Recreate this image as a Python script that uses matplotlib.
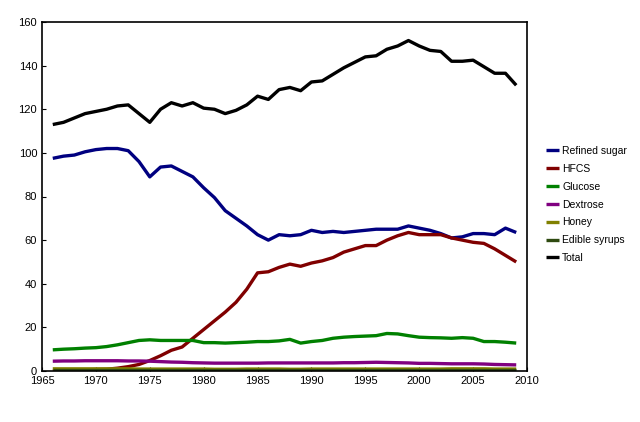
import matplotlib
matplotlib.use('Agg')
import matplotlib.pyplot as plt

plt.rcParams['font.family'] = ['Liberation Sans Narrow', 'Liberation Sans', 'DejaVu Sans']

years = list(range(1966, 2010))

refined_sugar = [97.5, 98.5, 99, 100.5, 101.5, 102, 102, 101, 96, 89,
                 93.5, 94, 91.5, 89, 84, 79.5, 73.5, 70, 66.5, 62.5,
                 60, 62.5, 62, 62.5, 64.5, 63.5, 64, 63.5, 64, 64.5,
                 65, 65, 65, 66.5, 65.5, 64.5, 63, 61, 61.5, 63,
                 63, 62.5, 65.5, 63.5]
hfcs = [0, 0, 0.3, 0.5, 0.7, 0.8, 1.3, 2, 3, 4.8,
        7, 9.5, 11, 15, 19, 23, 27, 31.5, 37.5, 45,
        45.5, 47.5, 49, 48, 49.5, 50.5, 52, 54.5, 56, 57.5,
        57.5, 60, 62, 63.5, 62.5, 62.5, 62.5, 61, 60, 59,
        58.5, 56, 53, 50]
glucose = [9.7, 10, 10.2, 10.5, 10.7, 11.2, 12, 13, 14, 14.3,
           14, 14, 14, 14, 13, 13, 12.8, 13, 13.2, 13.5,
           13.5, 13.8, 14.5, 12.8, 13.5, 14, 15, 15.5, 15.8, 16,
           16.2, 17.2, 17, 16.2, 15.5, 15.3, 15.2, 15, 15.3, 15,
           13.5, 13.5, 13.2, 12.8]
dextrose = [4.5, 4.6, 4.6, 4.7, 4.7, 4.7, 4.7, 4.6, 4.6, 4.5,
            4.3, 4.1, 4.0, 3.8, 3.7, 3.6, 3.6, 3.6, 3.6, 3.6,
            3.7, 3.7, 3.7, 3.7, 3.7, 3.7, 3.7, 3.8, 3.8, 3.9,
            4.0, 3.9, 3.8, 3.7, 3.5, 3.5, 3.4, 3.3, 3.3, 3.3,
            3.2, 3.0, 2.9, 2.8]
honey = [1.0, 1.0, 1.0, 1.0, 1.0, 1.0, 1.0, 1.0, 0.9, 0.9,
         0.9, 0.9, 0.9, 0.9, 0.9, 0.8, 0.8, 0.8, 0.9, 0.9,
         0.9, 0.9, 0.8, 0.8, 0.9, 0.9, 0.9, 0.9, 0.9, 0.9,
         0.9, 0.9, 0.9, 0.9, 0.9, 0.9, 0.9, 1.0, 1.0, 1.0,
         1.0, 0.9, 0.9, 0.9]
edible_syrups = [0.4] * 44
total = [113, 114, 116, 118, 119, 120, 121.5, 122, 118, 114,
         120, 123, 121.5, 123, 120.5, 120, 118, 119.5, 122, 126,
         124.5, 129, 130, 128.5, 132.5, 133, 136, 139, 141.5, 144,
         144.5, 147.5, 149, 151.5, 149, 147, 146.5, 142, 142, 142.5,
         139.5, 136.5, 136.5, 131]

series = [
    ('Refined sugar', refined_sugar, '#000080'),
    ('HFCS', hfcs, '#800000'),
    ('Glucose', glucose, '#008000'),
    ('Dextrose', dextrose, '#800080'),
    ('Honey', honey, '#808000'),
    ('Edible syrups', edible_syrups, '#2e4a10'),
    ('Total', total, '#000000'),
]

fig = plt.figure(figsize=(6.4, 4.22), dpi=100)
ax = fig.add_axes([42 / 640, 1 - 371 / 422, (527 - 42) / 640, (371 - 22) / 422])

for name, vals, color in series:
    ax.plot(years, vals, color=color, linewidth=2.4, label=name, solid_capstyle='butt')

ax.set_xlim(1965, 2010)
ax.set_ylim(0, 160)
ax.set_xticks(range(1965, 2011, 5))
ax.set_yticks(range(0, 161, 20))
ax.tick_params(direction='in', length=3, labelsize=8, top=False, right=False)
for s in ax.spines.values():
    s.set_linewidth(1.2)

ax.legend(loc='center left', bbox_to_anchor=(1.02, 0.477), frameon=False,
          fontsize=7.5, handlelength=1.2, handletextpad=0.35, labelspacing=0.75)

fig.savefig('out.png', dpi=100)
